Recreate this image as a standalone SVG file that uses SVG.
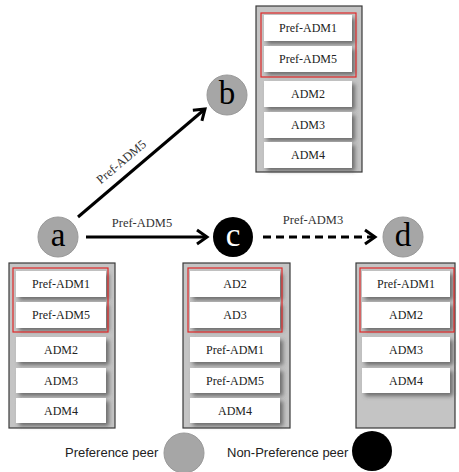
<svg xmlns="http://www.w3.org/2000/svg" width="459" height="472" viewBox="0 0 459 472">
<defs>
<style>
.panel{fill:#c4c4c4;stroke:#3a3a3a;stroke-width:1.2}
.cell{fill:#fff;filter:url(#sh)}
.sel{fill:none;stroke:#e02828;stroke-width:1.2}
.ct{font-family:"Liberation Serif",serif;font-size:12px;fill:#222;text-anchor:middle}
.node{font-family:"Liberation Serif",serif;font-size:33px;text-anchor:middle}
.pref{fill:#a6a6a6;stroke:#999;stroke-width:1}
.np{fill:#000}
.lbl{font-family:"Liberation Serif",serif;font-size:12.5px;fill:#333;text-anchor:middle}
.leg{font-family:"Liberation Sans",Arial,sans-serif;font-size:13px;fill:#222}
.edge{stroke:#000;stroke-width:3;fill:none;marker-end:url(#ah)}
</style>
<filter id="sh" x="-10%" y="-20%" width="130%" height="160%">
<feDropShadow dx="3" dy="3" stdDeviation="2" flood-color="#444" flood-opacity="0.7"/>
</filter>
<marker id="ah" markerUnits="userSpaceOnUse" markerWidth="16" markerHeight="18" refX="12" refY="9" orient="auto">
<path d="M2,2 L12,9 L2,16" fill="none" stroke="#000" stroke-width="3"/>
</marker>
</defs>

<g id="connectors">
<line class="edge" x1="78" y1="217" x2="205" y2="109"/>
<line class="edge" x1="86" y1="237" x2="207" y2="237"/>
<line class="edge" x1="263" y1="237" x2="375" y2="237" stroke-dasharray="8 5"/>
<text class="lbl" transform="translate(124,165) rotate(-40)">Pref-ADM5</text>
<text class="lbl" x="142" y="227">Pref-ADM5</text>
<text class="lbl" x="313" y="224">Pref-ADM3</text>
</g>

<g id="node-a">
<circle class="pref" cx="58" cy="237" r="20"/>
<text class="node" x="58" y="246">a</text>
</g>
<g id="node-b">
<circle class="pref" cx="227" cy="95" r="20"/>
<text class="node" x="227" y="104">b</text>
</g>
<g id="node-c">
<circle class="np" cx="233" cy="237" r="20"/>
<text class="node" x="233" y="246" fill="#fff">c</text>
</g>
<g id="node-d">
<circle class="pref" cx="403" cy="237" r="20"/>
<text class="node" x="403" y="246">d</text>
</g>

<g id="table-b">
<rect class="panel" x="256" y="6" width="106" height="166"/>
<rect class="cell" x="264" y="15" width="88" height="26"/>
<rect class="cell" x="264" y="46" width="88" height="26"/>
<rect class="cell" x="264" y="81" width="88" height="26"/>
<rect class="cell" x="264" y="112" width="88" height="26"/>
<rect class="cell" x="264" y="142" width="88" height="26"/>
<rect class="sel" x="261" y="13" width="95" height="64"/>
<text class="ct" x="308" y="32">Pref-ADM1</text>
<text class="ct" x="308" y="63">Pref-ADM5</text>
<text class="ct" x="308" y="98">ADM2</text>
<text class="ct" x="308" y="129">ADM3</text>
<text class="ct" x="308" y="159">ADM4</text>
</g>

<g id="table-a">
<rect class="panel" x="9" y="263" width="106" height="165"/>
<rect class="cell" x="16" y="271" width="90" height="26"/>
<rect class="cell" x="16" y="302" width="90" height="26"/>
<rect class="cell" x="16" y="337" width="90" height="25"/>
<rect class="cell" x="16" y="368" width="90" height="25"/>
<rect class="cell" x="16" y="398" width="90" height="25"/>
<rect class="sel" x="13" y="268" width="95" height="64"/>
<text class="ct" x="61" y="288">Pref-ADM1</text>
<text class="ct" x="61" y="319">Pref-ADM5</text>
<text class="ct" x="61" y="354">ADM2</text>
<text class="ct" x="61" y="385">ADM3</text>
<text class="ct" x="61" y="415">ADM4</text>
</g>

<g id="table-c">
<rect class="panel" x="183" y="263" width="107" height="165"/>
<rect class="cell" x="190" y="271" width="90" height="26"/>
<rect class="cell" x="190" y="302" width="90" height="26"/>
<rect class="cell" x="190" y="337" width="90" height="25"/>
<rect class="cell" x="190" y="368" width="90" height="25"/>
<rect class="cell" x="190" y="398" width="90" height="25"/>
<rect class="sel" x="188" y="268" width="94" height="64"/>
<text class="ct" x="235" y="288">AD2</text>
<text class="ct" x="235" y="319">AD3</text>
<text class="ct" x="235" y="354">Pref-ADM1</text>
<text class="ct" x="235" y="385">Pref-ADM5</text>
<text class="ct" x="235" y="415">ADM4</text>
</g>

<g id="table-d">
<rect class="panel" x="356" y="263" width="99" height="165"/>
<rect class="cell" x="362" y="271" width="88" height="26"/>
<rect class="cell" x="362" y="302" width="88" height="26"/>
<rect class="cell" x="362" y="337" width="88" height="25"/>
<rect class="cell" x="362" y="368" width="88" height="25"/>
<rect class="sel" x="360" y="268" width="94" height="64"/>
<text class="ct" x="406" y="288">Pref-ADM1</text>
<text class="ct" x="406" y="319">ADM2</text>
<text class="ct" x="406" y="354">ADM3</text>
<text class="ct" x="406" y="385">ADM4</text>
</g>

<g id="legend">
<text class="leg" x="65" y="457">Preference peer</text>
<circle class="pref" cx="184" cy="453" r="20"/>
<text class="leg" x="227" y="457">Non-Preference peer</text>
<circle class="np" cx="372" cy="451" r="20"/>
</g>
</svg>
